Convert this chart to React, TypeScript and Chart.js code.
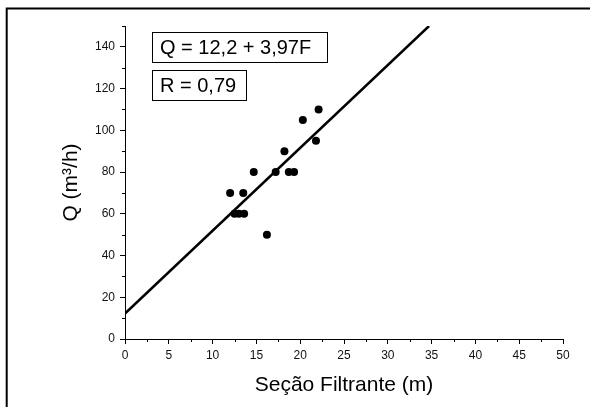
import React, { useEffect, useRef } from "react";
import { Chart, registerables } from "chart.js";

Chart.register(...registerables);

// Measured data
const sectionF = [12.0, 12.5, 13.0, 13.6, 13.5, 14.7, 16.2, 17.2, 18.2, 18.7, 19.3, 20.3, 21.8, 22.1];
const flowQ = [70, 60, 60, 60, 70, 80, 50, 80, 90, 80, 80, 105, 95, 110];

// Fitted line Q = 12.2 + 3.97F (endpoints)
const fitF = [0, 34.71];
const fitQ = [12.2, 150];

const equationLabel = "Q = 12,2 + 3,97F";
const rLabel = "R = 0,79";
const xTitle = "Seção Filtrante (m)";
const yTitle = "Q (m³/h)";

const FONT = "'Liberation Sans', Arial, Helvetica, sans-serif";

const decorPlugin = {
  id: "decor",
  afterDraw(chart: any) {
    const ctx = chart.ctx;
    const xs = chart.scales.x;
    const ys = chart.scales.y;
    const area = chart.chartArea;
    ctx.save();
    // minor ticks
    ctx.strokeStyle = "#000";
    ctx.lineWidth = 1;
    ctx.beginPath();
    xs.ticks.forEach((t: any) => {
      if (Math.abs(t.value % 5) > 1e-6) {
        const px = Math.round(xs.getPixelForValue(t.value)) + 0.5;
        ctx.moveTo(px, area.bottom);
        ctx.lineTo(px, area.bottom + 3);
      }
    });
    ys.ticks.forEach((t: any) => {
      if (Math.abs(t.value % 20) > 1e-6) {
        const py = Math.round(ys.getPixelForValue(t.value)) + 0.5;
        ctx.moveTo(area.left, py);
        ctx.lineTo(area.left - 3, py);
      }
    });
    ctx.stroke();

    // outer frame (top and left edges)
    ctx.lineWidth = 2;
    ctx.beginPath();
    ctx.moveTo(6.7, chart.height);
    ctx.lineTo(6.7, 8.5);
    ctx.lineTo(chart.width, 8.5);
    ctx.stroke();

    // annotation boxes
    ctx.font = `20px ${FONT}`;
    ctx.textBaseline = "middle";
    ctx.textAlign = "left";
    ctx.lineWidth = 1;
    const boxes = [
      { text: equationLabel, x: 152.5, y: 32.5, w: 175, h: 30 },
      { text: rLabel, x: 152.5, y: 70.5, w: 94, h: 30 },
    ];
    boxes.forEach((b) => {
      ctx.fillStyle = "#fff";
      ctx.fillRect(b.x, b.y, b.w, b.h);
      ctx.strokeStyle = "#000";
      ctx.strokeRect(b.x, b.y, b.w, b.h);
      ctx.fillStyle = "#000";
      ctx.fillText(b.text, b.x + 7.5, b.y + b.h / 2 + 1);
    });
    ctx.restore();
  },
};

export default function App() {
  const ref = useRef<HTMLCanvasElement | null>(null);

  useEffect(() => {
    if (!ref.current) return;
    const chart = new Chart(ref.current, {
      type: "scatter",
      data: {
        datasets: [
          {
            type: "line",
            data: fitF.map((f, i) => ({ x: f, y: fitQ[i] })),
            borderColor: "#000",
            borderWidth: 2.5,
            pointRadius: 0,
            fill: false,
          },
          {
            type: "scatter",
            data: sectionF.map((f, i) => ({ x: f, y: flowQ[i] })),
            backgroundColor: "#000",
            borderColor: "#000",
            pointRadius: 4,
            borderWidth: 0,
          },
        ],
      },
      options: {
        animation: false,
        responsive: false,
        devicePixelRatio: 1,
        layout: { padding: { left: 0, top: 26, right: 27, bottom: 0 } },
        plugins: {
          legend: { display: false },
          tooltip: { enabled: false },
        },
        scales: {
          x: {
            type: "linear",
            min: 0,
            max: 50,
            afterFit: (s: any) => {
              s.height = 68;
            },
            ticks: {
              stepSize: 2.5,
              autoSkip: false,
              maxRotation: 0,
              padding: 4,
              color: "#111",
              font: { family: FONT, size: 12 },
              callback: (v: any) => (Math.abs(Number(v) % 5) < 1e-6 ? String(v) : ""),
            },
            grid: {
              drawOnChartArea: false,
              drawTicks: true,
              tickLength: 5,
              tickColor: (c: any) =>
                c.tick && Math.abs(c.tick.value % 5) < 1e-6 ? "#000" : "rgba(0,0,0,0)",
            },
            border: { display: true, color: "#000", width: 1 },
            title: {
              display: true,
              text: xTitle,
              color: "#000",
              font: { family: FONT, size: 21 },
              padding: { top: 0, bottom: 9 },
            },
          },
          y: {
            type: "linear",
            min: 0,
            max: 150,
            afterFit: (s: any) => {
              s.width = 125;
            },
            ticks: {
              stepSize: 10,
              autoSkip: false,
              padding: 5,
              color: "#111",
              font: { family: FONT, size: 12 },
              callback: (v: any) => (Math.abs(Number(v) % 20) < 1e-6 ? String(v) : ""),
            },
            grid: {
              drawOnChartArea: false,
              drawTicks: true,
              tickLength: 5,
              tickColor: (c: any) =>
                c.tick && Math.abs(c.tick.value % 20) < 1e-6 ? "#000" : "rgba(0,0,0,0)",
            },
            border: { display: true, color: "#000", width: 1 },
            title: {
              display: true,
              text: yTitle,
              color: "#000",
              font: { family: FONT, size: 21 },
              padding: { top: 59, bottom: 0 },
            },
          },
        },
      },
      plugins: [decorPlugin],
    });
    return () => chart.destroy();
  }, []);

  return (
    <div
      style={{
        position: "fixed",
        left: 0,
        top: 0,
        width: 590,
        height: 407,
        background: "#fff",
      }}
    >
      <canvas ref={ref} width={590} height={407} style={{ display: "block" }} />
    </div>
  );
}
